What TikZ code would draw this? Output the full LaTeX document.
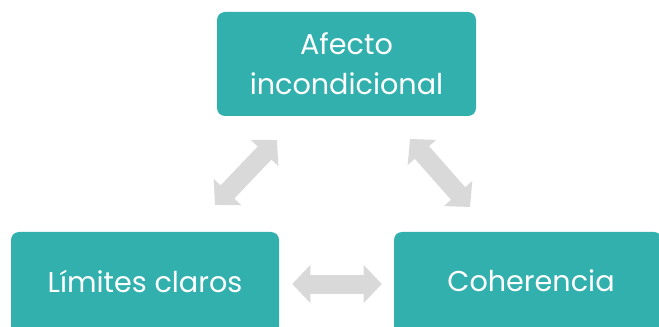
\documentclass[tikz,border=0pt]{standalone}
\usepackage{fontspec}
\setmainfont{Poppins}
\usetikzlibrary{arrows.meta}
\definecolor{boxteal}{HTML}{31B0AE}
\definecolor{linkgrey}{HTML}{D9D9D9}

\begin{document}
\begin{tikzpicture}[x=0.75pt,y=-0.75pt,
	box/.style={fill=boxteal, rounded corners=6pt, text=white, font=\fontsize{21.5}{30}\selectfont, align=center, inner sep=0pt, minimum height=78pt},
	link/.style={linkgrey, line width=14.25pt, {Triangle[width=27.75pt,length=13.5pt]}-{Triangle[width=27.75pt,length=13.5pt]}}]
	\path[use as bounding box, clip] (0,0) rectangle (659,327);
	\node[box, minimum width=194.25pt] (afecto) at (346.5,64) {Afecto\\incondicional};
	\node[box, minimum width=201pt] (limites) at (145,284) {};
	\node[box, minimum width=201pt] (coherencia) at (528,284) {};
	\node[text=white, font=\fontsize{21.5}{30}\selectfont] (limtxt) at (145,281) {Límites claros};
	\node[text=white, font=\fontsize{21.5}{30}\selectfont] (cohtxt) at (531,281) {Coherencia};
	% ends of the slanted links
	\coordinate (al) at (277,140);
	\coordinate (la) at (215,205);
	\coordinate (ac) at (410,139);
	\coordinate (ca) at (470,207);
	\draw[link] (la) -- (al);
	\draw[link] (ac) -- (ca);
	\draw[link, shorten <=9.75pt, shorten >=9pt] (limites.east) -- (coherencia.west);
\end{tikzpicture}
\end{document}
